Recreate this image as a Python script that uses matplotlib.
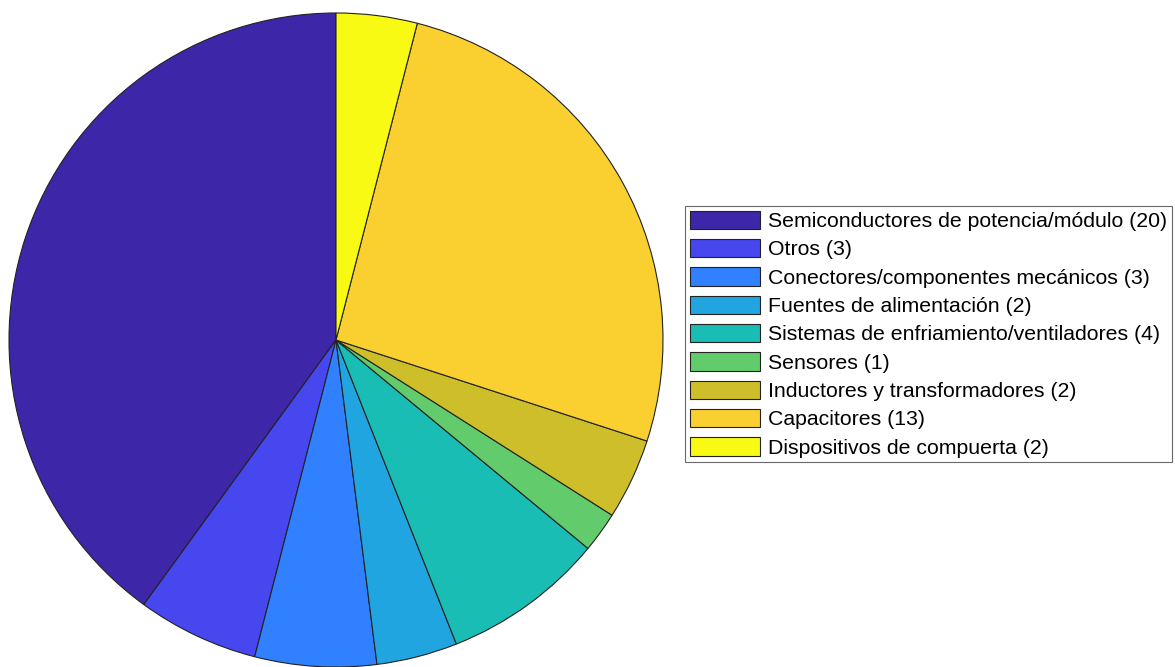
import matplotlib.pyplot as plt

plt.rcParams['font.family'] = ['Liberation Sans', 'DejaVu Sans']

labels = ['Semiconductores de potencia/módulo', 'Otros',
          'Conectores/componentes mecánicos', 'Fuentes de alimentación',
          'Sistemas de enfriamiento/ventiladores', 'Sensores',
          'Inductores y transformadores', 'Capacitores',
          'Dispositivos de compuerta']
counts = [20, 3, 3, 2, 4, 1, 2, 13, 2]
colors = ['#3E26A8', '#4747F0', '#3080FF', '#20A5E0', '#1ABDB3',
          '#62CB6C', '#CEBF2A', '#FACF30', '#F8FA14']

fig = plt.figure(figsize=(11.75, 6.67), dpi=100)
# square axes, pie centred at ~(336, 340) px
ax = fig.add_axes([9 / 1175, 0.0, 654 / 1175, 654 / 667])
wedges, _ = ax.pie(counts, colors=colors, startangle=90, counterclock=True,
                   wedgeprops=dict(edgecolor='#222222', linewidth=0.8))
ax.set_xlim(-1, 1)
ax.set_ylim(-1, 1)
ax.set_aspect('equal')

leg_labels = [f'{l} ({c})' for l, c in zip(labels, counts)]
leg = fig.legend(wedges, leg_labels, loc='upper left',
                 bbox_to_anchor=(685 / 1175, 1 - 206 / 667),
                 fontsize=15.3, fancybox=False, frameon=True,
                 handlelength=3.3, handleheight=0.95, handletextpad=0.38,
                 labelspacing=0.37, borderpad=0.22, borderaxespad=0)
leg.get_frame().set_edgecolor('#444444')
leg.get_frame().set_linewidth(0.8)

fig.savefig('out.png', dpi=100)
